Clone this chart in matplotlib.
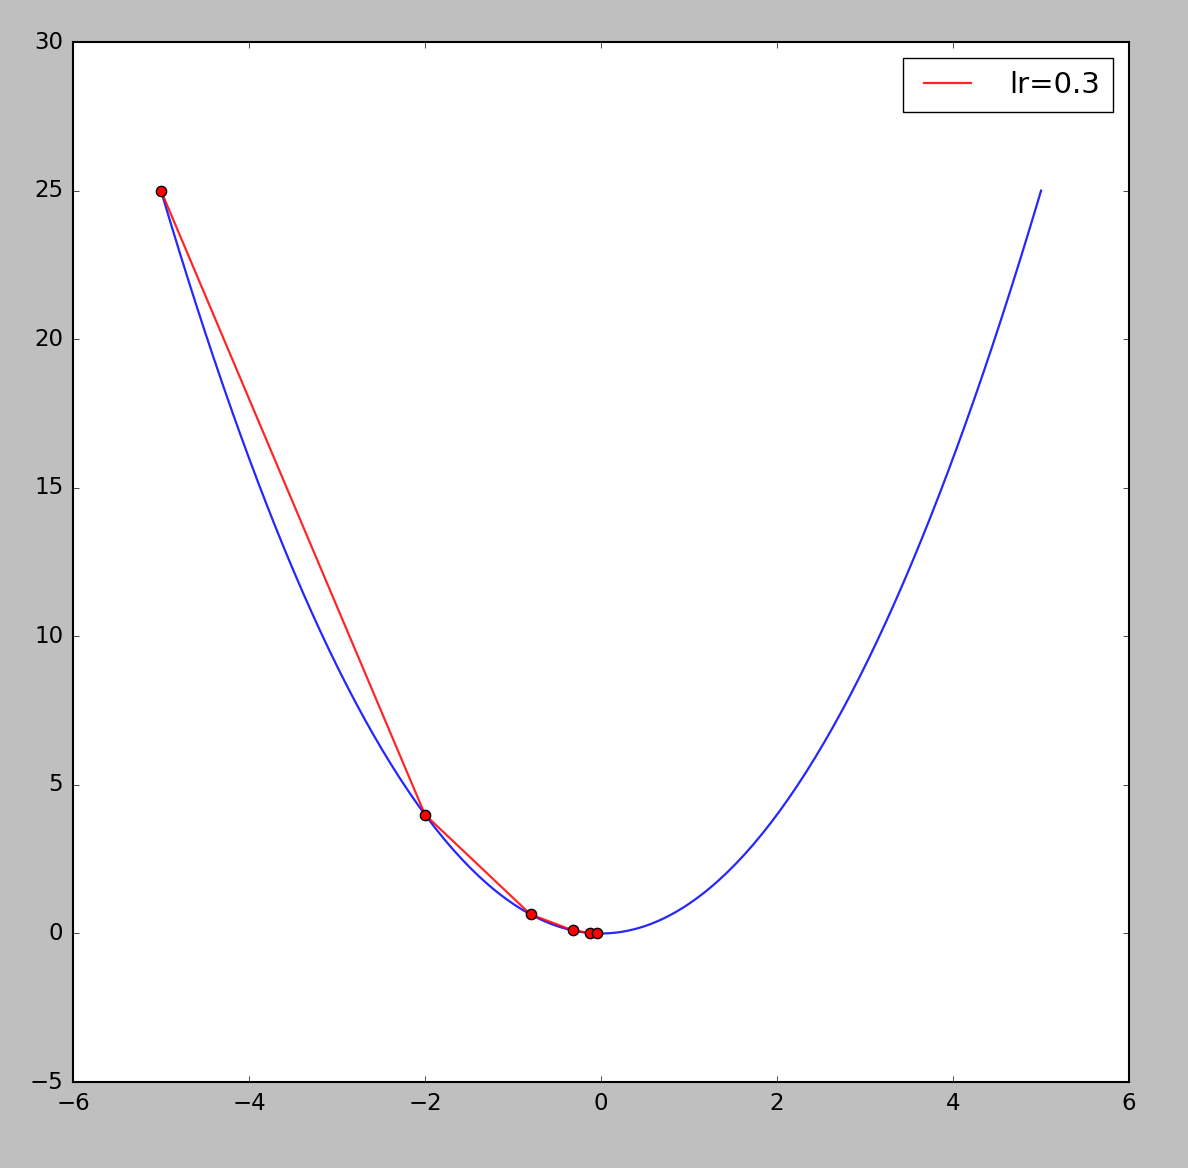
import matplotlib.pyplot as plt
import numpy as np

plt.style.use('classic')

# descenso de gradiente sobre y = x^2, lr=0.3
x_pasos = [-5.0, -2.0, -0.8, -0.32, -0.128, -0.0512]
y_pasos = [25.0, 4.0, 0.64, 0.1024, 0.016384, 0.00262144]
etiqueta = 'lr=0.3'

x = np.linspace(-5, 5, 200)
y = x ** 2

fig = plt.figure(figsize=(11.88, 11.68), dpi=100, facecolor='#bfbfbf')
ax = fig.add_axes([0.0614, 0.0736, 0.889, 0.8904])

ax.plot(x, y, color='b', lw=1.6, alpha=0.85)
ax.plot(x_pasos, y_pasos, color='r', lw=1.6, alpha=0.85, label=etiqueta)
ax.scatter(x_pasos, y_pasos, color='r', edgecolor='k', s=55, zorder=3)

ax.set_xlim(-6, 6)
ax.set_ylim(-5, 30)
ax.tick_params(labelsize=16.5, pad=7)
for s in ax.spines.values():
    s.set_linewidth(1.5)
ax.legend(fontsize=21, handlelength=2.2, handletextpad=1.0,
          borderpad=0.45, borderaxespad=0.55)

fig.savefig('out.png', dpi=100, facecolor=fig.get_facecolor())
